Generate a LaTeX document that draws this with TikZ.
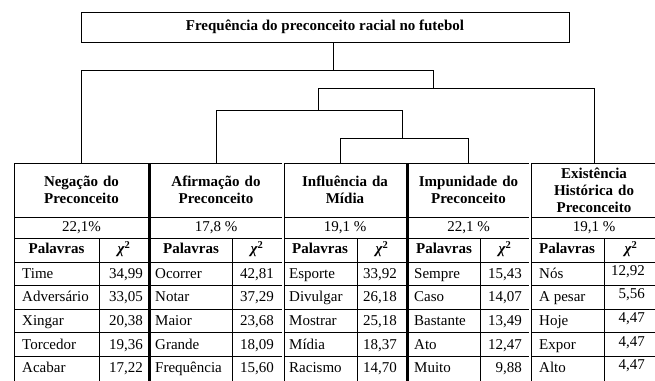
\documentclass[tikz,border=0pt]{standalone}
\usepackage{fontspec}
\setmainfont{Liberation Serif}
\usepackage{tikz}
\usetikzlibrary{calc}
\tikzstyle{line} = [draw, line width=0.8pt]
\tikzstyle{titlebox} = [rectangle, draw, line width=0.8pt, minimum width=488pt, minimum height=30pt, inner sep=0pt, font=\fontsize{15}{17}\bfseries\selectfont]
\tikzstyle{classe} = [rectangle, minimum height=54pt, inner xsep=4pt, inner ysep=0pt, align=center, font=\fontsize{15}{17}\bfseries\selectfont]
\tikzstyle{perc} = [inner sep=0pt, text height=10pt, text depth=3pt, font=\fontsize{15}{17}\selectfont]
\tikzstyle{cab} = [inner sep=0pt, text height=10pt, text depth=3pt, font=\fontsize{15}{17}\bfseries\selectfont]
\tikzstyle{palavra} = [anchor=west, inner sep=0pt, text height=10pt, text depth=3pt, font=\fontsize{15}{17}\selectfont]
\tikzstyle{valor} = [anchor=east, inner sep=0pt, text height=10pt, text depth=3pt, font=\fontsize{15}{17}\selectfont]
\tikzstyle{thick_bar} = [draw, line width=3pt]
\tikzstyle{double_bar} = [draw, double, double distance=1.6pt, line width=0.7pt]
\newcommand{\chiq}{\textit{χ}\textsuperscript{2}}

\begin{document}
\begin{tikzpicture}[x=1pt, y=-1pt]
	\useasboundingbox (0,0) rectangle (655,380);
	\clip (0,0) rectangle (655,380);
	
	\node [titlebox] (titulo) at (325,27) {Frequência do preconceito racial no futebol};
	
	% classes
	\node [classe, minimum width=135pt, text width=127pt] (neg) at (81.5,190) {Negação do\\Preconceito};
	\node [classe, minimum width=134pt, text width=126pt] (afi) at (216,190) {Afirmação do\\Preconceito};
	\node [classe, minimum width=124pt, text width=116pt] (inf) at (345,190) {Influência da\\Mídia};
	\node [classe, minimum width=123pt, text width=115pt] (imp) at (468.5,190) {Impunidade do\\Preconceito};
	\node [classe, minimum width=128pt, text width=120pt] (exi) at (594,190) {Existência\\Histórica do\\Preconceito};
	
	% dendrograma
	\coordinate (r0) at (333,70);
	\coordinate (r1) at (433,88);
	\coordinate (r2) at (318,110);
	\coordinate (r3) at (402,138);
	\path [line] (titulo.south -| r0) -- (r0);
	\path [line] (neg.north) |- (r0 -| r1) -- (r1);
	\path [line] (r2) |- (r1 -| exi.north) -- (exi.north);
	\path [line] (afi.north) |- (r2 -| r3) -- (r3);
	\path [line] ([xshift=-5pt]inf.north) |- (r3 -| imp.north) -- (imp.north);
	
	% grade da tabela
	\path [line] (14,163) -- (658,163);
	\path [line] (14,217) -- (658,217);
	\path [line] (14,238) -- (658,238);
	\path [line] (14,262) -- (658,262);
	\foreach \y in {285.6,309.2,332.8,356.4}
		\path [line] (14,\y) -- (658,\y);
	\path [line] (14,163) -- (14,381);
	\path [line] (658,163) -- (658,381);
	\foreach \x in {99,232,357,480,604}
		\path [line] (\x,238) -- (\x,381);
	\path [thick_bar] (149.5,163) -- (149.5,381);
	\path [thick_bar] (407,163) -- (407,381);
	\path [double_bar] (283,163) -- (283,381);
	\path [double_bar] (530,163) -- (530,381);
	
	% percentuais
	\node [perc] (p_neg) at (81.5,227.5) {22,1\%};
	\node [perc] (p_afi) at (216,227.5) {17,8 \%};
	\node [perc] (p_inf) at (345,227.5) {19,1 \%};
	\node [perc] (p_imp) at (468.5,227.5) {22,1 \%};
	\node [perc] (p_exi) at (594,227.5) {19,1 \%};
	
	% cabecalhos
	\foreach \px/\cx [count=\k] in {56.5/124, 191/257, 320/382, 444/505, 567/631} {
		\node [cab] (pal\k) at (\px,250) {Palavras};
		\node [cab] (chi\k) at (\cx,250) {\chiq};
	}
	
	% palavras e valores
	\foreach \w/\v [count=\i] in {Time/{34,99}, Adversário/{33,05}, Xingar/{20,38}, Torcedor/{19,36}, Acabar/{17,22}} {
		\node [palavra] (a\i) at (22,{263+23.6*(\i-0.5)}) {\w};
		\node [valor] (va\i) at (143,{263+23.6*(\i-0.5)}) {\v};
	}
	\foreach \w/\v [count=\i] in {Ocorrer/{42,81}, Notar/{37,29}, Maior/{23,68}, Grande/{18,09}, Frequência/{15,60}} {
		\node [palavra] (b\i) at (155,{263+23.6*(\i-0.5)}) {\w};
		\node [valor] (vb\i) at (274,{263+23.6*(\i-0.5)}) {\v};
	}
	\foreach \w/\v [count=\i] in {Esporte/{33,92}, Divulgar/{26,18}, Mostrar/{25,18}, Mídia/{18,37}, Racismo/{14,70}} {
		\node [palavra] (c\i) at (289,{263+23.6*(\i-0.5)}) {\w};
		\node [valor] (vc\i) at (397,{263+23.6*(\i-0.5)}) {\v};
	}
	\foreach \w/\v [count=\i] in {Sempre/{15,43}, Caso/{14,07}, Bastante/{13,49}, Ato/{12,47}, Muito/{9,88}} {
		\node [palavra] (d\i) at (414,{263+23.6*(\i-0.5)}) {\w};
		\node [valor] (vd\i) at (522,{263+23.6*(\i-0.5)}) {\v};
	}
	\foreach \w/\v [count=\i] in {Nós/{12,92}, A pesar/{5,56}, Hoje/{4,47}, Expor/{4,47}, Alto/{4,47}} {
		\node [palavra] (e\i) at (539,{263+23.6*(\i-0.5)}) {\w};
		\node [valor] (ve\i) at (645,{260+23.6*(\i-0.5)}) {\v};
	}
\end{tikzpicture}
\end{document}
